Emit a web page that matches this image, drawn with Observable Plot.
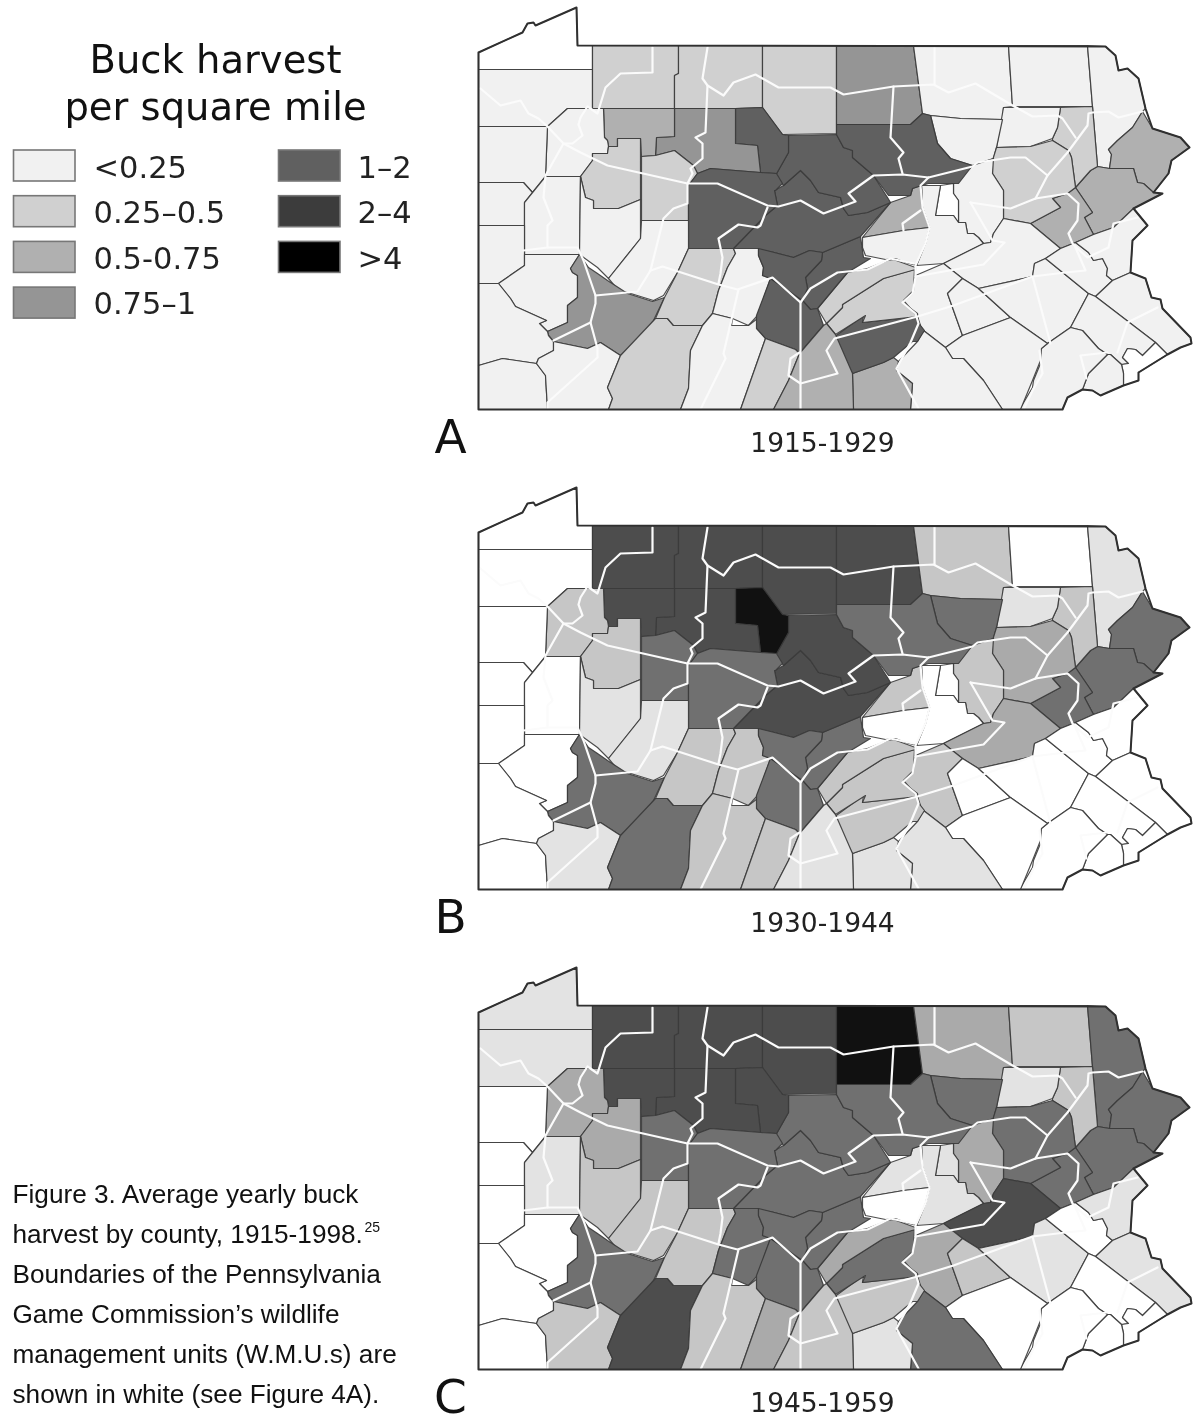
<!DOCTYPE html>
<html>
<head>
<meta charset="utf-8">
<script src="https://cdn.jsdelivr.net/npm/d3@7"></script>
<script src="https://cdn.jsdelivr.net/npm/@observablehq/plot@0.6"></script>
<style>html,body{margin:0;padding:0;background:#fff}</style>
</head>
<body>
<div id="chart"></div>
<script>
// Harvest classes
const classLabels = ["no harvest", "<0.25", "0.25–0.5", "0.5-0.75", "0.75–1", "1–2", "2–4", ">4"];
const panels = ["A", "B", "C"];
const periods = ["1915-1929", "1930-1944", "1945-1959"];
const captionLines = [
  "Figure 3. Average yearly buck",
  "harvest by county, 1915-1998.",
  "Boundaries of the Pennsylvania",
  "Game Commission’s wildlife",
  "management units (W.M.U.s) are",
  "shown in white (see Figure 4A)."
];

// County names, their class in each period, and their outlines in map units
const countyNames = ["Erie","Crawford","Warren","McKean","Potter","Tioga","Bradford","Susquehanna","Wayne","Pike","Monroe","Carbon","Lackawanna","Wyoming","Sullivan","Luzerne","Columbia","Montour","Northumberland","Union","Snyder","Schuylkill","Dauphin","Lebanon","Berks","Lehigh","Northampton","Bucks","Montgomery","Philadelphia","Delaware","Chester","Lancaster","York","Adams","Cumberland","Perry","Juniata","Mifflin","Centre","Clinton","Lycoming","Cameron","Elk","Forest","Venango","Mercer","Clarion","Jefferson","Clearfield","Lawrence","Butler","Armstrong","Indiana","Beaver","Allegheny","Westmoreland","Washington","Greene","Fayette","Somerset","Cambria","Blair","Bedford","Huntingdon","HuntingdonN","Fulton","Franklin"];
const classA = [0,1,2,2,2,4,1,1,1,3,3,3,2,1,1,2,1,0,1,3,1,1,1,1,1,1,1,1,1,0,1,1,1,1,3,5,2,2,5,5,5,5,5,4,3,1,1,2,2,5,1,1,1,1,1,1,4,1,1,1,2,2,1,1,5,5,2,3];
const classB = [0,0,6,6,6,6,2,0,1,5,5,5,2,1,5,3,2,0,0,2,0,3,2,0,0,0,0,0,0,0,0,0,0,1,1,2,2,2,5,6,6,5,7,6,6,2,0,2,5,5,0,0,1,1,0,0,5,0,0,1,5,2,2,2,5,5,2,1];
const classC = [1,1,6,6,6,7,3,2,5,5,5,5,2,1,5,5,3,1,1,1,0,6,3,2,1,0,1,1,0,0,0,0,0,5,1,2,5,3,5,5,5,5,6,6,6,3,0,3,5,5,0,1,2,2,0,0,5,0,0,2,6,2,5,2,5,5,3,2];

const countyRings = [
[478,52,522,32,527,23,533,22,535,25,576,7,577,45,592,45,592,69,478,69],
[478,69,592,69,592,108,567,108,547,126,478,126],
[592,45,678,45,678,73,674,75,674,108,592,108],
[678,45,762,45,762,107,735,108,674,108,674,75,678,73],
[762,45,836,45,836,133,782,134,762,107],
[836,45,913,45,922,113,910,124,836,124],
[913,45,1008,45,1012,106,1003,107,1002,119,960,118,930,115,922,113],
[1008,45,1087,45,1092,106,1012,106],
[1087,45,1105,46,1115,55,1118,70,1127,68,1138,78,1145,108,1142,111,1132,127,1117,140,1108,149,1111,154,1109,168,1097,166,1092,106],
[1142,111,1152,128,1180,137,1189,147,1171,160,1168,173,1153,192,1143,183,1137,182,1133,168,1109,168,1111,154,1108,149,1117,140,1132,127],
[1075,187,1090,170,1097,166,1109,168,1133,168,1137,182,1143,183,1153,192,1162,193,1133,208,1113,227,1093,234,1084,217,1092,212],
[1030,223,1060,207,1052,198,1067,193,1075,187,1092,212,1084,217,1093,234,1075,242,1060,248],
[1060,107,1092,106,1097,166,1090,170,1075,187,1071,157,1068,150,1052,140,1052,138,1057,127],
[1003,107,1060,107,1057,127,1052,138,1030,146,996,147],
[930,115,960,118,1002,119,996,147,993,158,972,165,950,158,937,143],
[996,147,1030,146,1052,140,1068,150,1071,157,1075,187,1067,193,1052,198,1060,207,1030,223,1003,218,1003,190,992,173,992,160],
[953,183,972,165,993,158,992,173,1003,190,1003,218,993,233,990,242,983,243,978,237,973,233,967,233,965,222,958,222,958,200,953,193],
[940,185,953,183,953,193,958,200,958,222,953,215,935,215],
[921,185,940,185,935,215,953,215,958,222,965,222,967,233,973,233,978,237,983,243,943,263,916,265,925,243,929,227,922,207],
[862,237,890,202,910,195,912,188,921,185,922,207,929,227,903,230],
[862,237,903,230,929,227,925,243,916,265,905,262,895,258,885,259,865,255,862,247],
[943,263,983,243,990,242,993,233,1003,218,1030,223,1060,248,1045,258,1034,263,1032,276,978,288,962,278],
[915,275,943,263,962,278,947,293,962,335,945,347,923,330,918,322,917,313,902,302,912,293,913,277],
[947,293,962,278,978,288,1010,317,962,335],
[978,288,1032,276,1034,263,1045,258,1088,293,1070,327,1047,343,1010,317],
[1045,258,1060,248,1075,242,1088,252,1093,260,1102,258,1107,268,1106,275,1112,280,1095,296,1088,293],
[1075,242,1093,234,1113,227,1133,208,1147,225,1132,240,1130,272,1112,280,1106,275,1107,268,1102,258,1093,260,1088,252],
[1095,296,1112,280,1130,272,1145,278,1151,297,1160,299,1162,308,1190,337,1191,343,1180,347,1167,354,1155,342],
[1088,293,1095,296,1155,342,1142,355,1135,349,1127,348,1122,357,1128,363,1121,364,1110,354,1107,354,1098,348,1082,330,1070,327],
[1122,357,1127,348,1135,349,1142,355,1155,342,1167,354,1138,372,1138,380,1123,385,1123,373,1121,364,1128,363],
[1107,354,1110,354,1121,364,1123,373,1123,385,1100,395,1092,390,1082,389,1088,373],
[1047,343,1070,327,1082,330,1098,348,1107,354,1088,373,1082,389,1067,397,1062,409,1019,409,1032,387,1033,380,1040,363,1038,350],
[945,347,962,335,1010,317,1047,343,1041,348,1040,360,1032,380,1020,409,1002,409,983,380,963,358,952,358],
[898,361,917,341,923,330,945,347,952,358,963,358,983,380,1002,409,910,409,912,383,896,370],
[852,373,883,362,893,357,898,361,896,370,912,383,910,409,853,409],
[833,337,863,315,862,322,900,318,917,316,920,325,924,330,917,341,912,341,893,357,883,362,852,373],
[826,323,842,307,842,304,883,278,914,269,913,290,903,300,917,316,862,322,865,315,835,334],
[817,308,847,272,867,268,887,260,893,259,915,267,915,269,883,278,842,304,842,307,826,323],
[822,252,860,236,863,257,870,258,847,272,817,308,810,309,802,300,807,288,805,277,821,260],
[774,190,783,185,800,170,810,180,818,192,840,197,843,208,848,215,867,212,890,202,883,210,860,236,822,252,809,250,793,257,770,251,733,248,765,215,777,205],
[788,135,836,134,843,147,852,150,852,157,873,175,887,197,890,202,867,212,848,215,843,208,840,197,818,192,810,180,800,170,783,185,775,175,788,152],
[836,124,910,124,922,113,930,115,937,143,950,158,972,165,958,183,928,183,921,185,912,188,910,195,888,195,873,175,852,157,852,150,843,147,836,134],
[735,108,762,107,782,134,788,135,788,152,775,175,776,173,760,172,757,145,735,143],
[674,108,735,108,735,143,757,145,760,172,710,168,697,173,693,165,674,150,655,155,656,137,674,136],
[603,108,674,108,674,136,656,137,655,155,641,156,640,138,617,138,617,146,608,146,607,140,604,137],
[547,126,567,108,603,108,604,137,607,140,608,146,607,153,592,153,592,160,580,176,545,176],
[478,126,547,126,545,176,532,192,523,182,478,182],
[580,176,592,160,592,153,607,153,608,146,617,146,617,138,640,138,640,199,618,208,593,208,593,200,585,197],
[641,156,655,155,674,150,693,165,697,173,688,185,688,220,641,220],
[688,185,697,173,710,168,760,172,776,173,782,183,775,190,774,190,777,205,765,215,733,248,688,248],
[478,182,523,182,532,192,524,202,524,225,478,225],
[524,202,545,176,580,176,579,254,524,254,524,225],
[580,176,585,197,593,200,593,208,618,208,640,199,640,238,608,278,597,267,579,254],
[641,220,688,220,688,248,677,272,663,295,653,300,627,292,618,290,608,278,640,238],
[478,225,524,225,524,254,524,265,498,283,478,283],
[498,283,524,265,524,254,579,254,570,268,572,272,577,275,577,297,567,305,567,322,547,331,539,323,546,320,515,306,510,298],
[579,254,588,267,597,273,607,280,627,293,652,301,664,297,653,320,637,340,620,355,600,342,587,348,553,341,548,335,547,331,567,322,567,305,577,297,577,275,572,272,570,268],
[478,283,498,283,510,298,515,306,546,320,539,323,547,331,548,335,553,341,553,350,538,358,536,363,502,358,478,365],
[478,365,502,358,536,363,545,375,547,409,478,409],
[553,341,587,348,600,342,620,355,607,387,612,398,608,409,547,409,545,375,536,363,538,358,553,350],
[620,355,655,318,667,318,673,325,702,325,690,350,688,388,680,409,608,409,612,398,607,387],
[688,248,733,248,735,253,727,267,718,290,712,313,702,325,673,325,667,318,655,318,664,297,677,272],
[733,248,758,248,758,255,763,267,762,275,770,278,757,315,748,325,732,318,712,313,718,290,727,267,735,253],
[702,325,712,313,732,318,731,325,748,325,757,318,757,328,765,338,740,409,680,409,688,388,690,350],
[770,278,802,300,810,309,817,308,823,325,799,353,795,349,765,338,756,328,756,315],
[758,248,770,251,793,257,809,250,822,252,821,260,805,277,807,288,802,300,770,278,762,275,763,267,758,255],
[765,338,795,349,799,353,788,380,773,409,740,409],
[799,353,823,325,826,323,835,334,852,373,853,409,773,409,788,380]
];

// State border and wildlife management unit boundaries, in the same map units
const stateBorder = [478,52,522,32,527,23,533,22,535,25,576,7,577,45,1105,46,1115,55,1118,70,1127,68,1138,78,1145,108,1152,128,1180,137,1189,147,1171,160,1168,173,1153,192,1162,193,1133,208,1147,225,1132,240,1130,272,1145,278,1151,297,1160,299,1162,308,1190,337,1191,343,1180,347,1167,354,1138,372,1138,380,1123,385,1100,395,1092,390,1082,389,1067,397,1062,409,478,409];
const wmuLines = [
[480,88,500,105,520,100,528,113,538,118,547,126,563,143,580,152,607,165,687,183,717,183,767,205,778,206,800,200,823,213,855,201,848,193,873,175,902,174,928,177,972,166,977,162,1010,157,1025,157,1047,175],
[1035,198,1047,175,1067,152,1087,125,1088,113,1092,112,1108,111,1118,117,1142,111],
[970,202,1010,208,1035,198,1067,193,1078,203,1077,220,1068,233,1072,243,1078,249,1087,257,1108,247,1113,223,1137,217],
[970,202,992,240,1004,242,983,264,915,276],
[799,352,790,358,788,375,800,383,837,373,826,350,834,338,917,316,953,305,1032,276,1065,272,1085,270,1075,247],
[652,47,652,72,620,73,605,87,597,113,587,106,580,117,578,124,582,135,572,143,563,143,545,175,543,197,552,220,547,225,547,247,523,250],
[547,247,577,247,583,260,595,295,595,303,590,322,553,340],
[590,322,597,348,597,357,547,402,547,409],
[595,295,637,291,650,270,662,266,718,284,737,289,772,277,800,302,810,288,837,272,867,269,890,258,913,263],
[707,47,702,78,707,85,723,95,733,82,755,74,778,87,830,87,843,94,893,86,933,84,948,92,975,83,1012,105,1032,116,1057,115,1062,118,1075,137],
[934,47,934,84],
[893,86,890,137,903,152,898,158,902,173],
[707,85,705,132,695,137,702,143,702,158,690,168,692,173,687,183,687,203,673,208,663,218,650,270],
[767,207,760,225,757,227,738,224,718,238,722,257,720,273,718,283],
[738,289,723,353,725,358,700,409],
[800,302,800,409],
[928,177,920,185,922,207,929,227,925,243,915,265,915,277,912,293,902,302,915,313,918,323,910,342,896,368,918,408],
[920,210,902,223,903,230],
[1032,276,1050,343],
[1039,350,1042,373,1033,388,1023,409],
[1117,352,1127,322,1157,307],
[1107,352,1080,355,1086,378]
];

// Legend layout follows class order; the greys differ slightly between the printed maps
const legendClasses = [1, 2, 3, 4, 5, 6, 7];
const greysA = ["#ffffff","#f1f1f1","#d0d0d0","#b0b0b0","#959595","#606060","#3c3c3c","#000000"];
const greysBC = ["#ffffff","#e3e3e3","#c6c6c6","#aaaaaa","#8f8f8f","#707070","#4d4d4d","#111111"];

const panelShift = p => panels.indexOf(p) * 480;
const classBy = {A: classA, B: classB, C: classC};
const pts = flat => d3.range(0, flat.length, 2).map(i => [flat[i], flat[i + 1]]);

const countyRows = panels.flatMap(p => countyRings.flatMap((ring, c) =>
  pts(ring).map(([x, y]) => ({id: p + countyNames[c], x, y: y + panelShift(p), tone: (p === "A" ? "A" : "B") + classBy[p][c]}))));
const borderRows = panels.flatMap(p => pts(stateBorder).map(([x, y]) => ({id: p, x, y: y + panelShift(p)})));
const wmuRows = panels.flatMap(p => wmuLines.flatMap((l, i) => pts(l).map(([x, y]) => ({id: p + i, x, y: y + panelShift(p)}))));

const legendCol = c => (c <= 4 ? 0 : 1);
const legendRow = c => (c <= 4 ? c - 1 : c - 5);

const toneDomain = [...greysA.map((_, i) => "A" + i), ...greysBC.map((_, i) => "B" + i)];
const sans = "'DejaVu Sans', Verdana, sans-serif";
const arial = "'Liberation Sans', Arial, sans-serif";

const chart = Plot.plot({
  width: 1198, height: 1416, margin: 0,
  x: {domain: [0, 1198], range: [0, 1198], axis: null},
  y: {domain: [0, 1416], range: [0, 1416], axis: null},
  color: {type: "ordinal", domain: toneDomain, range: [...greysA, ...greysBC]},
  style: {background: "#fff", filter: "blur(0.45px)"},
  marks: [
    Plot.line(countyRows, {x: "x", y: "y", z: "id", fill: "tone", stroke: "#3a3a3a", strokeWidth: 1.2, strokeOpacity: 0.9, curve: "linear-closed", strokeLinejoin: "round"}),
    Plot.line(wmuRows, {x: "x", y: "y", z: "id", stroke: "#fbfbfb", strokeWidth: 2.2, curve: "linear", strokeLinejoin: "round"}),
    Plot.line(borderRows, {x: "x", y: "y", z: "id", stroke: "#303030", strokeWidth: 2, curve: "linear-closed", strokeLinejoin: "round"}),
    // legend
    Plot.text(["Buck harvest", "per square mile"], {x: 215, y: (d, i) => 72 + i * 47.5, text: d => d, fontSize: 38.5, fontFamily: sans, fill: "#111", textAnchor: "middle", lineAnchor: "bottom"}),
    Plot.rect(legendClasses, {
      x1: c => 13.5 + legendCol(c) * 265, x2: c => 75 + legendCol(c) * 265,
      y1: c => 150 + legendRow(c) * 45.7, y2: c => 181 + legendRow(c) * 45.7,
      fill: c => "A" + c, stroke: "#777", strokeWidth: 1.6
    }),
    Plot.text(legendClasses, {
      x: c => 93 + legendCol(c) * 264, y: c => 177 + legendRow(c) * 45.6,
      text: c => classLabels[c], fontSize: 30.5, fontFamily: sans, fill: "#222", textAnchor: "start", lineAnchor: "bottom"
    }),
    // panel letters and periods
    Plot.text(panels, {x: 450, y: (d, i) => 452 + i * 480, text: d => d, fontSize: 47, fontFamily: sans, fill: "#111", textAnchor: "middle", lineAnchor: "bottom"}),
    Plot.text(periods, {x: 822, y: (d, i) => 451 + i * 480, text: d => d, fontSize: 26.5, fontFamily: sans, fill: "#222", textAnchor: "middle", lineAnchor: "bottom"}),
    // caption
    Plot.text(captionLines, {x: 12, y: (d, i) => 1202 + i * 40, text: d => d, fontSize: 26.2, fontFamily: arial, fill: "#111", textAnchor: "start", lineAnchor: "bottom"}),
    Plot.text(["25"], {x: 364, y: 1231, text: d => d, fontSize: 14, fontFamily: arial, fill: "#111", textAnchor: "start", lineAnchor: "bottom"})
  ]
});
document.getElementById("chart").append(chart);
</script>
</body>
</html>
